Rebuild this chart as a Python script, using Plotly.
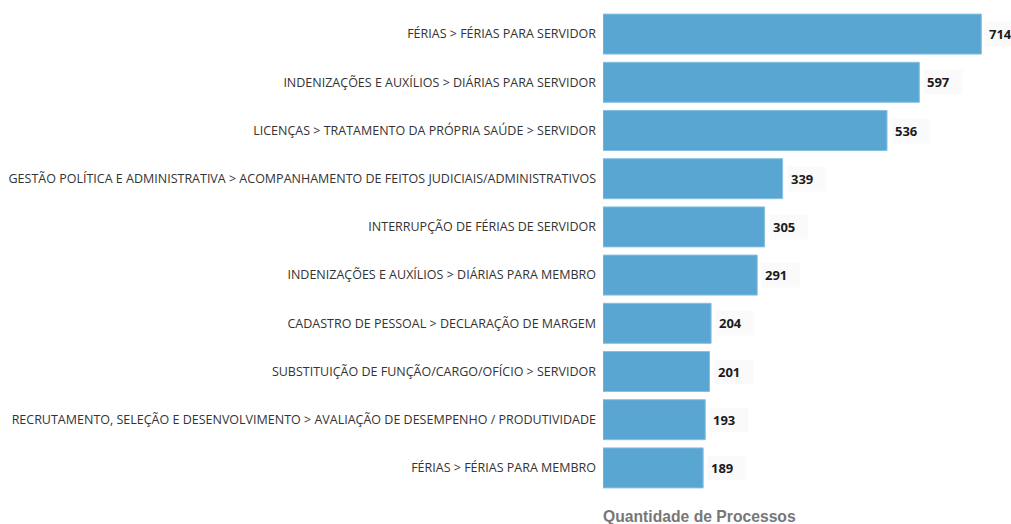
import plotly.graph_objects as go

categories = [
    "FÉRIAS > FÉRIAS PARA SERVIDOR",
    "INDENIZAÇÕES E AUXÍLIOS > DIÁRIAS PARA SERVIDOR",
    "LICENÇAS > TRATAMENTO DA PRÓPRIA SAÚDE > SERVIDOR",
    "GESTÃO POLÍTICA E ADMINISTRATIVA > ACOMPANHAMENTO DE FEITOS JUDICIAIS/ADMINISTRATIVOS",
    "INTERRUPÇÃO DE FÉRIAS DE SERVIDOR",
    "INDENIZAÇÕES E AUXÍLIOS > DIÁRIAS PARA MEMBRO",
    "CADASTRO DE PESSOAL > DECLARAÇÃO DE MARGEM",
    "SUBSTITUIÇÃO DE FUNÇÃO/CARGO/OFÍCIO > SERVIDOR",
    "RECRUTAMENTO, SELEÇÃO E DESENVOLVIMENTO > AVALIAÇÃO DE DESEMPENHO / PRODUTIVIDADE",
    "FÉRIAS > FÉRIAS PARA MEMBRO",
]
values = [714, 597, 536, 339, 305, 291, 204, 201, 193, 189]
axis_title = "Quantidade de Processos"

fig = go.Figure()
fig.add_trace(go.Bar(
    x=values, y=categories, orientation="h",
    marker=dict(color="#5aa6d2", line=dict(color="#86c0e2", width=1)),
    hoverinfo="x+y",
))

for c, v in zip(categories, values):
    fig.add_annotation(
        x=v, y=c, xref="x", yref="y", text=f"<b>{v}</b>&nbsp;&nbsp;&nbsp;",
        showarrow=False, xanchor="left", xshift=4,
        font=dict(family="Open Sans", size=13, color="#1a1a1a"),
        bgcolor="rgba(0,0,0,0.018)", borderpad=3,
    )

fig.add_annotation(
    x=0, y=-0.05, xref="paper", yref="paper", text=f"<b>{axis_title}</b>",
    showarrow=False, xanchor="left", yanchor="middle", xshift=-2,
    font=dict(family="Liberation Sans, Arial", size=15.7, color="#777777"),
)

fig.update_layout(
    width=1011, height=524,
    margin=dict(l=603, r=0, t=10, b=32),
    paper_bgcolor="white", plot_bgcolor="white",
    bargap=0.17,
    showlegend=False,
    xaxis=dict(range=[0, 770], showgrid=False, zeroline=False, showticklabels=False,
               showline=False, ticks=""),
    yaxis=dict(autorange="reversed", showgrid=False, showline=False, ticks="",
               ticklabelstandoff=6,
               tickfont=dict(family="Open Sans", size=12.5, color="#333333")),
)

fig.write_html("out.html", config={"displayModeBar": False},
               post_script="document.body.style.margin='0';document.body.style.overflow='hidden';")
